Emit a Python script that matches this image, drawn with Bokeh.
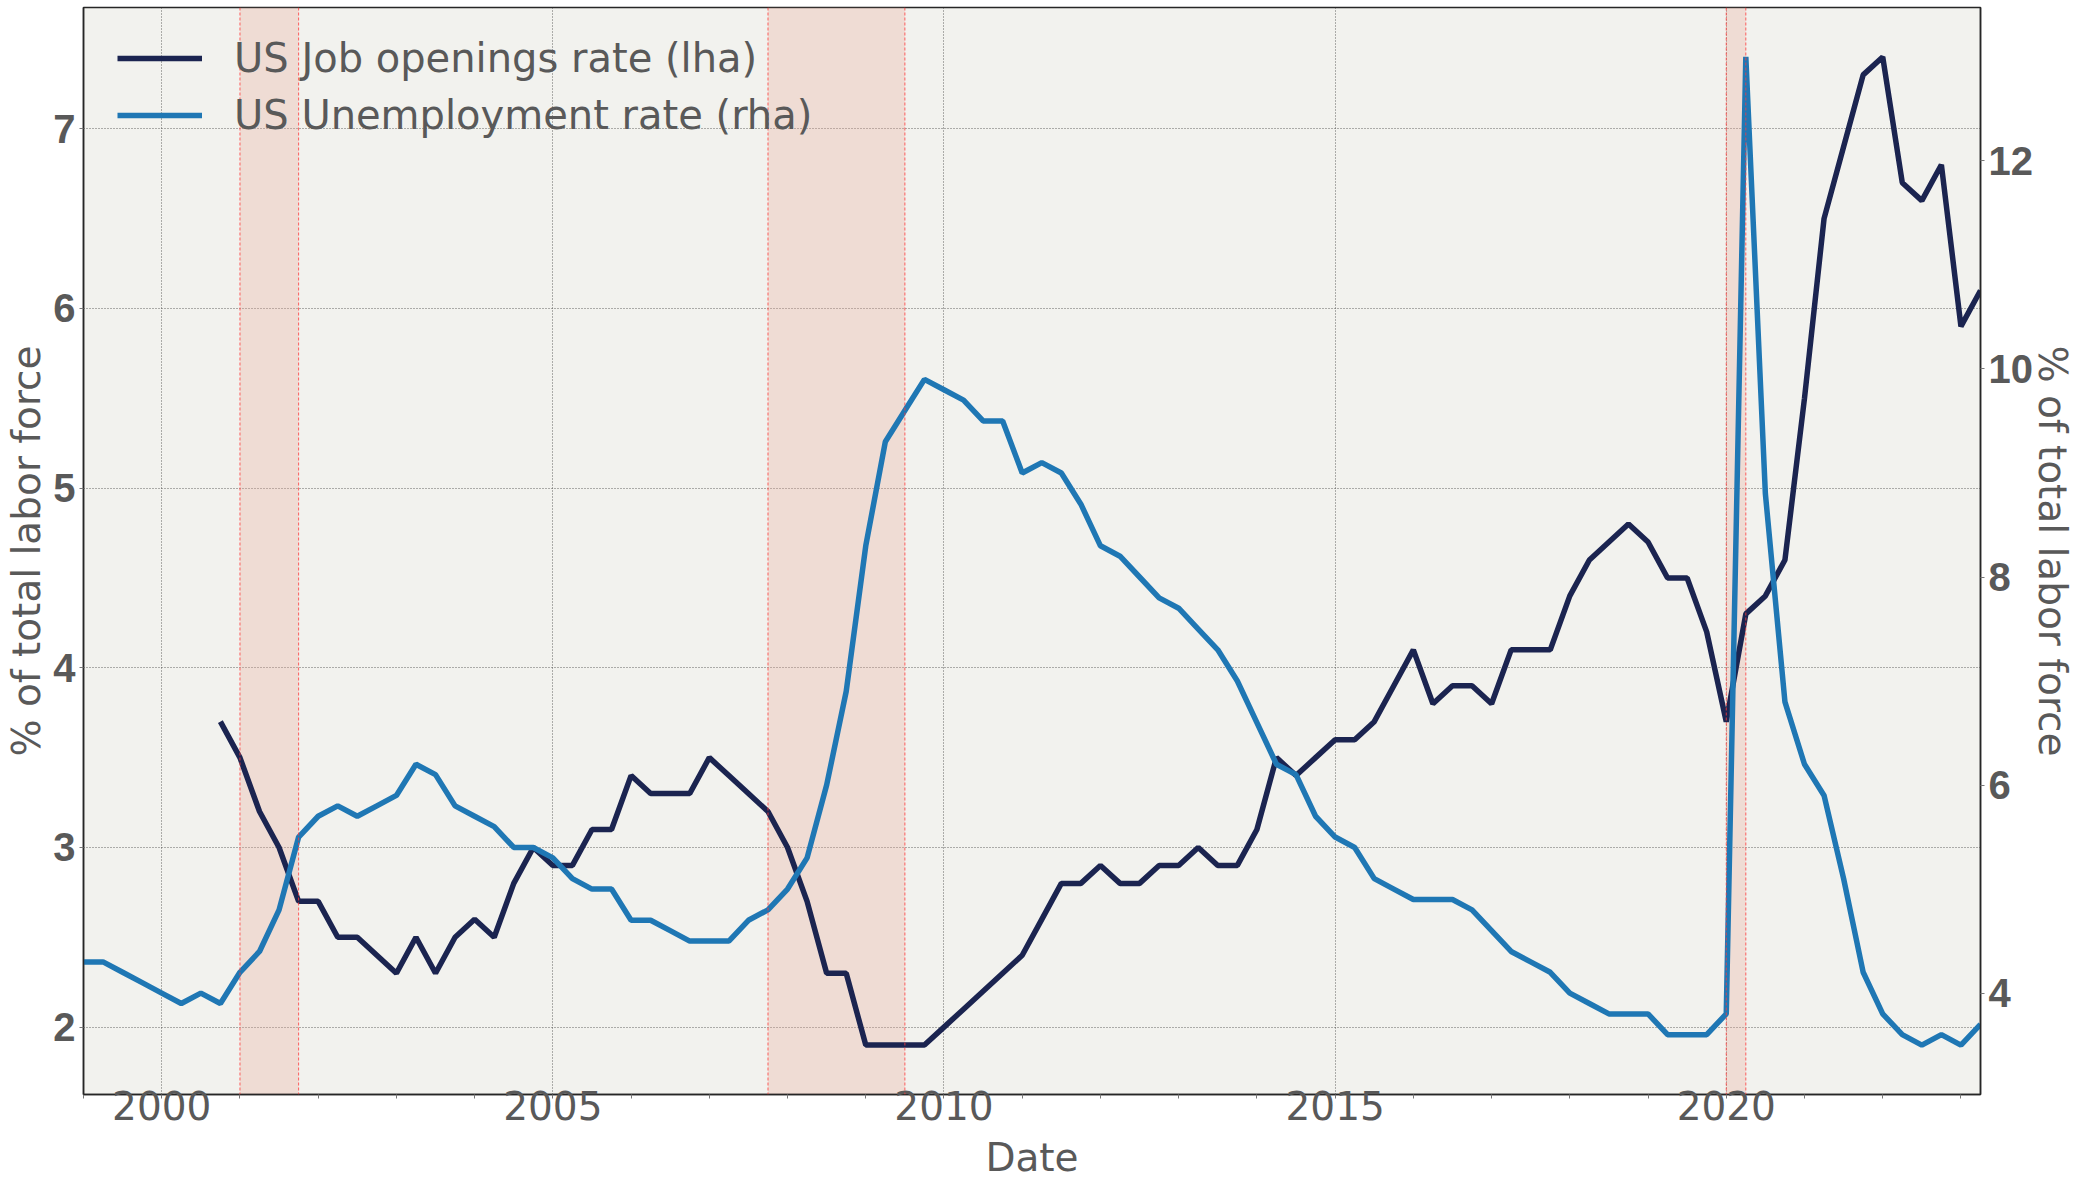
import pandas as pd
from bokeh.plotting import figure
from bokeh.models import (Range1d, LinearAxis, FixedTicker, Span, BoxAnnotation,
                          Legend, LegendItem)
from bokeh.embed import file_html
from bokeh.resources import INLINE

# ---------------- data ----------------
quarter_start = "1999-01-01"          # first quarter of the unemployment series
unemployment_rate = [
    4.3, 4.3, 4.2, 4.1,   # 1999
    4.0, 3.9, 4.0, 3.9,   # 2000
    4.2, 4.4, 4.8, 5.5,   # 2001
    5.7, 5.8, 5.7, 5.8,   # 2002
    5.9, 6.2, 6.1, 5.8,   # 2003
    5.7, 5.6, 5.4, 5.4,   # 2004
    5.3, 5.1, 5.0, 5.0,   # 2005
    4.7, 4.7, 4.6, 4.5,   # 2006
    4.5, 4.5, 4.7, 4.8,   # 2007
    5.0, 5.3, 6.0, 6.9,   # 2008
    8.3, 9.3, 9.6, 9.9,   # 2009
    9.8, 9.7, 9.5, 9.5,   # 2010
    9.0, 9.1, 9.0, 8.7,   # 2011
    8.3, 8.2, 8.0, 7.8,   # 2012
    7.7, 7.5, 7.3, 7.0,   # 2013
    6.6, 6.2, 6.1, 5.7,   # 2014
    5.5, 5.4, 5.1, 5.0,   # 2015
    4.9, 4.9, 4.9, 4.8,   # 2016
    4.6, 4.4, 4.3, 4.2,   # 2017
    4.0, 3.9, 3.8, 3.8,   # 2018
    3.8, 3.6, 3.6, 3.6,   # 2019
    3.8, 13.0, 8.8, 6.8,  # 2020
    6.2, 5.9, 5.1, 4.2,   # 2021
    3.8, 3.6, 3.5, 3.6,   # 2022
    3.5, 3.7,             # 2023
]

job_openings_start = "2000-10-01"
job_openings_rate = [
    3.7,                  # 2000 Q4
    3.5, 3.2, 3.0, 2.7,   # 2001
    2.7, 2.5, 2.5, 2.4,   # 2002
    2.3, 2.5, 2.3, 2.5,   # 2003
    2.6, 2.5, 2.8, 3.0,   # 2004
    2.9, 2.9, 3.1, 3.1,   # 2005
    3.4, 3.3, 3.3, 3.3,   # 2006
    3.5, 3.4, 3.3, 3.2,   # 2007
    3.0, 2.7, 2.3, 2.3,   # 2008
    1.9, 1.9, 1.9, 1.9,   # 2009
    2.0, 2.1, 2.2, 2.3,   # 2010
    2.4, 2.6, 2.8, 2.8,   # 2011
    2.9, 2.8, 2.8, 2.9,   # 2012
    2.9, 3.0, 2.9, 2.9,   # 2013
    3.1, 3.5, 3.4, 3.5,   # 2014
    3.6, 3.6, 3.7, 3.9,   # 2015
    4.1, 3.8, 3.9, 3.9,   # 2016
    3.8, 4.1, 4.1, 4.1,   # 2017
    4.4, 4.6, 4.7, 4.8,   # 2018
    4.7, 4.5, 4.5, 4.2,   # 2019
    3.7, 4.3, 4.4, 4.6,   # 2020
    5.5, 6.5, 6.9, 7.3,   # 2021
    7.4, 6.7, 6.6, 6.8,   # 2022
    5.9, 6.1,             # 2023
]

recession_starts = ["2001-01-01", "2007-10-01", "2020-01-01"]
recession_ends = ["2001-10-01", "2009-07-01", "2020-04-01"]

x_ticks = [2000, 2005, 2010, 2015, 2020]
x_minor_ticks = list(range(1999, 2024))
left_ticks = [2, 3, 4, 5, 6, 7]
right_ticks = [4, 6, 8, 10, 12]

series_labels = ["US Job openings rate (lha)", "US Unemployment rate (rha)"]
x_label = "Date"
y_label = "% of total labor force"


def dec_year(ts):
    ts = pd.Timestamp(ts)
    return ts.year + (ts.month - 1) / 12.0


u_x = [dec_year(d) for d in pd.date_range(quarter_start, periods=len(unemployment_rate), freq="QS")]
j_x = [dec_year(d) for d in pd.date_range(job_openings_start, periods=len(job_openings_rate), freq="QS")]

# ---------------- styling ----------------
FONT = "DejaVu Sans"
TICKFONT = "Liberation Sans"
TXT = "#595959"
AX = "#262626"
BG = "#F2F2EE"
NAVY = "#1b2450"
BLUE = "#1f77b4"
LW = 5.5

W, H = 2078, 1186
BL, BR, BT, BB = 83, 98, 7, 92
FH = H - BT - BB

p = figure(width=W, height=H, output_backend="svg", toolbar_location=None,
           x_range=Range1d(1999.0, 2023.25), y_range=Range1d(1.625, 7.675),
           min_border_left=BL, min_border_right=BR, min_border_top=BT, min_border_bottom=BB,
           background_fill_color=BG, border_fill_color="white")
p.extra_y_ranges = {"rha": Range1d(3.025, 13.475)}
p.outline_line_color = AX
p.outline_line_width = 1.5

# grids
p.xgrid.ticker = FixedTicker(ticks=x_ticks)
p.ygrid.ticker = FixedTicker(ticks=left_ticks)
for g in (p.xgrid[0], p.ygrid[0]):
    g.grid_line_color = "#333333"
    g.grid_line_alpha = 0.75
    g.grid_line_width = 1
    g.grid_line_dash = "1 2"

# recession shading
for s, e in zip(recession_starts, recession_ends):
    p.add_layout(BoxAnnotation(left=dec_year(s), right=dec_year(e), fill_color="#E9A898",
                               fill_alpha=0.3, line_alpha=0, level="underlay"))
    for loc in (dec_year(s), dec_year(e)):
        p.add_layout(Span(location=loc, dimension="height", line_color="#FF3B3B",
                          line_dash="3 2", line_width=1, line_alpha=0.8))

# lines
r1 = p.line(j_x, job_openings_rate, line_color=NAVY, line_width=LW)
r2 = p.line(u_x, unemployment_rate, line_color=BLUE, line_width=LW, y_range_name="rha")

# axes
xa = p.xaxis[0]
xa.ticker = FixedTicker(ticks=x_ticks, minor_ticks=x_minor_ticks)
xa.axis_label = x_label
xa.axis_label_standoff = 12
xa.major_tick_line_color = None
xa.major_tick_out = 0
xa.minor_tick_line_color = "#777777"
xa.minor_tick_out = 4
xa.minor_tick_in = 0
xa.major_label_text_font = FONT
xa.major_label_text_font_size = "39px"
xa.major_label_text_color = TXT
xa.major_label_standoff = -8

ya = p.yaxis[0]
ya.ticker = FixedTicker(ticks=left_ticks)
ya.axis_label = y_label
ya.axis_label_standoff = 1

ra = LinearAxis(y_range_name="rha", ticker=FixedTicker(ticks=right_ticks), axis_label=y_label)
ra.axis_label_standoff = -6
p.add_layout(ra, "right")

for a in (ya, ra):
    a.major_tick_line_color = "#777777"
    a.major_tick_out = 4
    a.major_tick_in = 0
    a.minor_tick_line_color = None
    a.major_label_text_font = TICKFONT
    a.major_label_text_font_style = "bold"
    a.major_label_text_font_size = "40px"
    a.major_label_text_color = TXT
    a.major_label_standoff = 4

for a in (xa, ya, ra):
    a.axis_line_color = AX
    a.axis_line_width = 1.5
    a.axis_label_text_font = FONT
    a.axis_label_text_font_size = "39px"
    a.axis_label_text_font_style = "normal"
    a.axis_label_text_color = TXT

# legend
legend = Legend(items=[LegendItem(label=series_labels[0], renderers=[r1]),
                       LegendItem(label=series_labels[1], renderers=[r2])],
                location=(34, FH - 26 - 107), orientation="vertical",
                background_fill_alpha=0, border_line_alpha=0,
                label_text_font=FONT, label_text_font_size="40px", label_text_color=TXT,
                glyph_width=85, glyph_height=50, label_height=50, label_standoff=32,
                spacing=7, padding=0, margin=0)
p.add_layout(legend)

open("out.html", "w").write(file_html(p, INLINE))
